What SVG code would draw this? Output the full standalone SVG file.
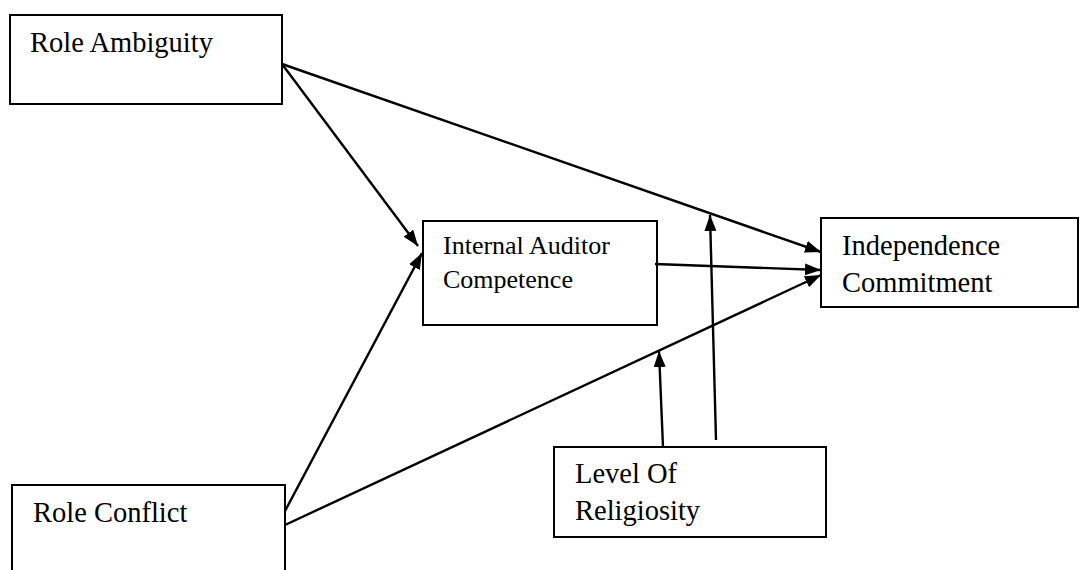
<svg xmlns="http://www.w3.org/2000/svg" width="1080" height="570" viewBox="0 0 1080 570">
<style>
.box{fill:#fff;stroke:#000;stroke-width:2}
text{font-family:'Liberation Serif',Tinos,'Times New Roman','DejaVu Serif',serif;fill:#000;font-size:28.5px}
.ts{font-size:26px}
.c{stroke:#000;stroke-width:2.4;fill:none;marker-end:url(#ah)}
</style>
<defs>
<marker id="ah" markerUnits="userSpaceOnUse" markerWidth="18" markerHeight="14" refX="16" refY="6" orient="auto">
<path d="M0,0 L16,6 L0,12 z" fill="#000"/>
</marker>
</defs>
<rect width="1080" height="570" fill="#fff"/>
<g id="role-ambiguity">
<rect class="box" x="10" y="15" width="272" height="89"/>
<text x="30" y="52" font-family="Liberation Serif, serif">Role Ambiguity</text>
</g>
<g id="role-conflict">
<rect class="box" x="12" y="485" width="273" height="100"/>
<text x="33" y="522" font-family="Liberation Serif, serif">Role Conflict</text>
</g>
<g id="internal-auditor-competence">
<rect class="box" x="423" y="221" width="234" height="104"/>
<text class="ts" x="443" y="254" font-family="Liberation Serif, serif">Internal Auditor</text>
<text class="ts" x="443" y="288" font-family="Liberation Serif, serif">Competence</text>
</g>
<g id="independence-commitment">
<rect class="box" x="821" y="218" width="257" height="89"/>
<text x="842" y="255" font-family="Liberation Serif, serif">Independence</text>
<text x="842" y="292" font-family="Liberation Serif, serif">Commitment</text>
</g>
<g id="level-of-religiosity">
<rect class="box" x="554" y="447" width="272" height="90"/>
<text x="575" y="483" font-family="Liberation Serif, serif">Level Of</text>
<text x="575" y="520" font-family="Liberation Serif, serif">Religiosity</text>
</g>
<g id="connectors">
<line class="c" x1="282" y1="64" x2="418" y2="246"/>
<line class="c" x1="282" y1="64" x2="821" y2="252"/>
<line class="c" x1="285" y1="511" x2="422" y2="253"/>
<line class="c" x1="285" y1="525" x2="821" y2="275"/>
<line class="c" x1="655" y1="264" x2="821" y2="270"/>
<line class="c" x1="663" y1="447" x2="659" y2="351"/>
<line class="c" x1="716" y1="440" x2="710" y2="215"/>
</g>
</svg>
